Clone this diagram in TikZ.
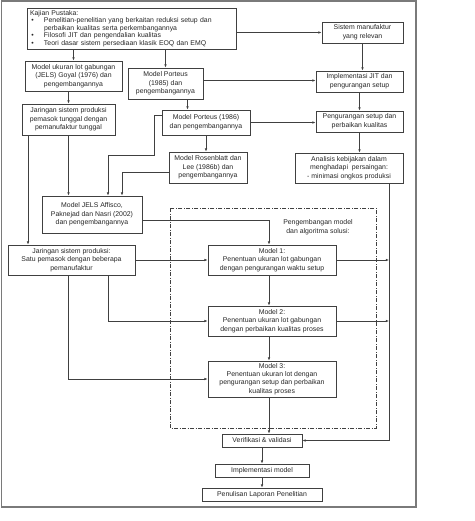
\documentclass[tikz,border=0pt]{standalone}
\usepackage{fontspec}
\setmainfont{Liberation Sans}
\usetikzlibrary{arrows.meta}
\definecolor{linegray}{HTML}{404040}
\definecolor{framegray}{HTML}{7A7A7A}

\begin{document}
\begin{tikzpicture}[x=1pt, y=-1pt,
    box/.style={draw=linegray, line width=0.75pt, inner sep=0pt, align=center,
        text=black!85, font=\fontsize{6.9}{8.6}\selectfont},
    arr/.style={draw=linegray, line width=0.75pt, -{Latex[length=3.2pt,width=2.6pt]}}]
    \useasboundingbox (0,0) rectangle (474,521);

    % Outer frame
    \draw[framegray, line width=1.6pt] (1.5,0.8) rectangle (416,507);

    % Literature review box
    \node[box, text width=203pt, inner xsep=3pt, minimum height=41pt, align=left,
        font=\fontsize{6.9}{7.6}\selectfont] (kajian) at (131.5,28.5)
        {Kajian Pustaka:\\
         \makebox[14pt][l]{\hspace{1.5pt}\textbullet}Penelitian-penelitian yang berkaitan reduksi setup dan\\
         \makebox[14pt][l]{}perbaikan kualitas serta perkembangannya\\
         \makebox[14pt][l]{\hspace{1.5pt}\textbullet}Filosofi JIT dan pengendalian kualitas\\
         \makebox[14pt][l]{\hspace{1.5pt}\textbullet}Teori dasar sistem persediaan klasik EOQ dan EMQ};

    % Right column
    \node[box, minimum width=81pt, minimum height=21pt] (sistem) at (362.5,32.5)
        {Sistem manufaktur\\yang relevan};
    \node[box, minimum width=87pt, minimum height=21pt] (jit) at (359.5,81.5)
        {Implementasi JIT dan\\pengurangan setup};
    \node[box, minimum width=87pt, minimum height=21pt] (setup) at (359.5,121.5)
        {Pengurangan setup dan\\perbaikan kualitas};
    \node[box, minimum width=108pt, minimum height=30pt] (analisis) at (349,168)
        {Analisis kebijakan dalam\\menghadapi\ \ persaingan:\\- minimasi ongkos produksi};

    % Models from the literature
    \node[box, minimum width=97pt, minimum height=30pt] (goyal) at (73.5,76)
        {Model ukuran lot gabungan\\(JELS) Goyal (1976) dan\\pengembangannya};
    \node[box, minimum width=75pt, minimum height=31pt] (porteusA) at (165.5,83.5)
        {Model Porteus\\(1985) dan\\pengembangannya};
    \node[box, minimum width=93pt, minimum height=31pt] (tunggal) at (68.5,119.5)
        {Jaringan sistem produksi\\pemasok tunggal dengan\\pemanufaktur tunggal};
    \node[box, minimum width=88pt, minimum height=25pt] (porteusB) at (206,122.5)
        {Model Porteus (1986)\\dan pengembangannya};
    \node[box, minimum width=78pt, minimum height=31pt] (rosen) at (208,167.5)
        {Model Rosenblatt dan\\Lee (1986b) dan\\pengembangannya};
    \node[box, minimum width=100pt, minimum height=37pt] (affisco) at (92,214.5)
        {Model JELS Affisco,\\Paknejad dan Nasri (2002)\\dan pengembangannya};
    \node[box, minimum width=127pt, minimum height=30pt] (beberapa) at (71.5,260)
        {Jaringan sistem produksi:\\Satu pemasok dengan beberapa\\pemanufaktur};

    % Model development area
    \draw[linegray, line width=0.75pt, dash pattern=on 4pt off 1.6pt on 0.8pt off 1.6pt]
        (170,208) rectangle (376,428);
    \node[align=center, text=black!85, font=\fontsize{6.9}{8.6}\selectfont] (judul) at (318,227.5)
        {Pengembangan model\\dan algoritma solusi:};
    \node[box, minimum width=128pt, minimum height=30pt] (model1) at (272,260)
        {Model 1:\\Penentuan ukuran lot gabungan\\dengan pengurangan waktu setup};
    \node[box, minimum width=128pt, minimum height=30pt] (model2) at (272,321)
        {Model 2:\\Penentuan ukuran lot gabungan\\dengan perbaikan kualitas proses};
    \node[box, minimum width=128pt, minimum height=36pt, font=\fontsize{6.9}{8.2}\selectfont]
        (model3) at (272,379)
        {Model 3:\\Penentuan ukuran lot dengan\\pengurangan setup dan perbaikan\\kualitas proses};

    % Final steps
    \node[box, minimum width=80pt, minimum height=13pt] (verif) at (262,440.5)
        {Verifikasi \& validasi};
    \node[box, minimum width=94pt, minimum height=13pt] (impl) at (262,470.5)
        {Implementasi model};
    \node[box, minimum width=120pt, minimum height=13pt] (tulis) at (262,494.5)
        {Penulisan Laporan Penelitian};

    % Connectors
    \draw[arr] (kajian.east |- sistem) -- (sistem.west);
    \draw[arr] (kajian.south -| goyal) -- (goyal.north);
    \draw[arr] (kajian.south -| porteusA) -- (porteusA.north);
    \draw[arr] (sistem.south) -- (sistem.south |- jit.north);
    \draw[arr] ([yshift=3pt]porteusA.east) -- ([yshift=3pt]porteusA.east -| jit.west);
    \draw[arr] (tunggal.north |- goyal.south) -- (tunggal.north);
    \draw[arr] ([xshift=22pt]porteusA.south) -- ([xshift=22pt]porteusA.south |- porteusB.north);
    \draw[arr] (jit.south) -- (setup.north);
    \draw[arr] (porteusB.east) -- (porteusB.east -| setup.west);
    \draw[arr] (porteusB.south) -- (porteusB.south |- rosen.north);
    \draw[arr] (setup.south) -- (setup.south |- analisis.north);
    \draw[arr] (tunggal.south) -- (tunggal.south |- affisco.north);
    \draw[arr] ([yshift=7.5pt]porteusB.west) -| ++(-7,40) -| ([xshift=16pt]affisco.north);
    \draw[arr] ([yshift=-4.5pt]rosen.west) -| ([xshift=30pt]affisco.north);
    \draw[arr] ([xshift=-40.5pt]tunggal.south) -- ([xshift=-40.5pt]tunggal.south |- beberapa.north);
    \draw[arr] ([yshift=-5.5pt]affisco.east) -| ([xshift=-3pt]model1.north);
    \draw[arr] (beberapa.east) -- (model1.west);
    \draw[arr] ([xshift=36.5pt]beberapa.south) |- (model2.west);
    \draw[arr] ([xshift=-3.5pt]beberapa.south) |- (model3.west);
    \draw[arr] ([xshift=-3pt]model1.south) -- ([xshift=-3pt]model2.north);
    \draw[arr] ([xshift=-3pt]model2.south) -- ([xshift=-3pt]model3.north);
    \draw[arr] ([xshift=-3pt]model3.south) -- ([xshift=-3pt]model3.south |- verif.north);
    \coordinate (bus) at ([xshift=40pt]analisis.south);
    \draw[arr] (bus) |- (verif.east);
    \draw[arr] (model1.east) -- (model1.east -| bus);
    \draw[arr] (model2.east) -- (model2.east -| bus);
    \draw[arr] (verif.south) -- (impl.north);
    \draw[arr] (impl.south) -- (tulis.north);
\end{tikzpicture}
\end{document}
